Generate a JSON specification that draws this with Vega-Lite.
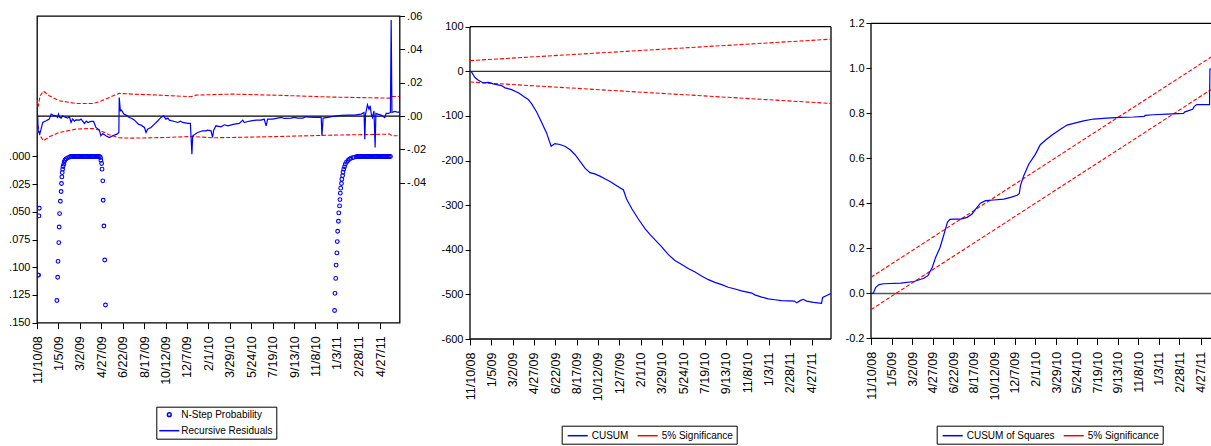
{
  "$schema": "https://vega.github.io/schema/vega-lite/v6.json",
  "background": "white",
  "padding": {"left": 7, "top": 9, "right": 0, "bottom": 0},
  "spacing": 13,
  "config": {
    "view": {"stroke": "#000", "strokeWidth": 1.3},
    "axis": {"domain": false, "grid": false, "tickColor": "#000", "tickSize": 5, "tickWidth": 1, "labelColor": "#000", "labelFont": "Liberation Sans, Arial, sans-serif", "labelFontSize": 11, "labelPadding": 2},
    "axisX": {"labelAngle": 270, "labelFont": "Liberation Sans, Arial, sans-serif", "labelFontSize": 12.5, "labelPadding": 7, "labelOverlap": false, "labelFlush": false, "tickSize": 6},
    "legend": {"labelFont": "Liberation Sans, Arial, sans-serif", "labelFontSize": 10, "labelColor": "#000", "strokeColor": "#000", "fillColor": "#fff", "padding": 3, "symbolType": "M-1.67,0H1.67", "symbolSize": 144, "symbolStrokeWidth": 1.5, "rowPadding": 4, "columnPadding": 5}
  },
  "resolve": {"scale": {"color": "independent", "shape": "independent", "size": "independent"}, "legend": {"color": "independent", "shape": "independent", "size": "independent"}},
  "datasets": {
    "nstep": [
      {"date": "2008-11-13", "p": 0.107}, {"date": "2008-11-14", "p": 0.107}, {"date": "2008-11-15", "p": 0.0536}, {"date": "2008-11-16", "p": 0.0467},
      {"date": "2009-01-01", "p": 0.130}, {"date": "2009-01-03", "p": 0.109}, {"date": "2009-01-04", "p": 0.0946}, {"date": "2009-01-06", "p": 0.0777},
      {"date": "2009-01-07", "p": 0.0636}, {"date": "2009-01-08", "p": 0.0515}, {"date": "2009-01-10", "p": 0.0404}, {"date": "2009-01-12", "p": 0.0316},
      {"date": "2009-01-13", "p": 0.0244}, {"date": "2009-01-14", "p": 0.0184}, {"date": "2009-01-15", "p": 0.0145}, {"date": "2009-01-16", "p": 0.0114},
      {"date": "2009-01-17", "p": 0.009}, {"date": "2009-01-19", "p": 0.0069}, {"date": "2009-01-20", "p": 0.0048}, {"date": "2009-01-22", "p": 0.0033},
      {"date": "2009-01-25", "p": 0.0021}, {"date": "2009-01-29", "p": 0.0012}, {"date": "2009-02-03", "p": 0.0006},
      {"date": "2009-02-06", "p": 0}, {"date": "2009-02-09", "p": 0}, {"date": "2009-02-12", "p": 0}, {"date": "2009-02-15", "p": 0},
      {"date": "2009-02-18", "p": 0}, {"date": "2009-02-21", "p": 0}, {"date": "2009-02-24", "p": 0}, {"date": "2009-02-27", "p": 0},
      {"date": "2009-03-02", "p": 0}, {"date": "2009-03-05", "p": 0}, {"date": "2009-03-08", "p": 0}, {"date": "2009-03-11", "p": 0},
      {"date": "2009-03-14", "p": 0}, {"date": "2009-03-17", "p": 0}, {"date": "2009-03-20", "p": 0}, {"date": "2009-03-23", "p": 0},
      {"date": "2009-03-26", "p": 0}, {"date": "2009-03-29", "p": 0}, {"date": "2009-04-01", "p": 0}, {"date": "2009-04-04", "p": 0},
      {"date": "2009-04-07", "p": 0}, {"date": "2009-04-10", "p": 0}, {"date": "2009-04-13", "p": 0}, {"date": "2009-04-16", "p": 0},
      {"date": "2009-04-19", "p": 0}, {"date": "2009-04-22", "p": 0},
      {"date": "2009-04-25", "p": 0.0009}, {"date": "2009-04-26", "p": 0.0033}, {"date": "2009-04-28", "p": 0.0063}, {"date": "2009-04-29", "p": 0.0114},
      {"date": "2009-05-01", "p": 0.022}, {"date": "2009-05-02", "p": 0.0395}, {"date": "2009-05-04", "p": 0.0627}, {"date": "2009-05-06", "p": 0.0934},
      {"date": "2009-05-08", "p": 0.134},
      {"date": "2010-12-28", "p": 0.139}, {"date": "2010-12-29", "p": 0.1235}, {"date": "2010-12-31", "p": 0.110}, {"date": "2011-01-01", "p": 0.098},
      {"date": "2011-01-03", "p": 0.087}, {"date": "2011-01-04", "p": 0.0768}, {"date": "2011-01-05", "p": 0.0675}, {"date": "2011-01-07", "p": 0.0584},
      {"date": "2011-01-08", "p": 0.0509}, {"date": "2011-01-10", "p": 0.0446}, {"date": "2011-01-11", "p": 0.0389}, {"date": "2011-01-12", "p": 0.0331},
      {"date": "2011-01-13", "p": 0.0286}, {"date": "2011-01-15", "p": 0.0244}, {"date": "2011-01-16", "p": 0.0205}, {"date": "2011-01-18", "p": 0.0172},
      {"date": "2011-01-19", "p": 0.0142}, {"date": "2011-01-21", "p": 0.0114}, {"date": "2011-01-23", "p": 0.0093}, {"date": "2011-01-25", "p": 0.0069},
      {"date": "2011-01-28", "p": 0.0051}, {"date": "2011-02-01", "p": 0.0036}, {"date": "2011-02-05", "p": 0.0024}, {"date": "2011-02-09", "p": 0.0015},
      {"date": "2011-02-15", "p": 0.0009}, {"date": "2011-02-22", "p": 0.0003},
      {"date": "2011-02-25", "p": 0}, {"date": "2011-02-28", "p": 0}, {"date": "2011-03-03", "p": 0}, {"date": "2011-03-06", "p": 0},
      {"date": "2011-03-09", "p": 0}, {"date": "2011-03-12", "p": 0}, {"date": "2011-03-15", "p": 0}, {"date": "2011-03-18", "p": 0},
      {"date": "2011-03-21", "p": 0}, {"date": "2011-03-24", "p": 0}, {"date": "2011-03-27", "p": 0}, {"date": "2011-03-30", "p": 0},
      {"date": "2011-04-02", "p": 0}, {"date": "2011-04-05", "p": 0}, {"date": "2011-04-08", "p": 0}, {"date": "2011-04-11", "p": 0},
      {"date": "2011-04-14", "p": 0}, {"date": "2011-04-17", "p": 0}, {"date": "2011-04-20", "p": 0}, {"date": "2011-04-23", "p": 0},
      {"date": "2011-04-26", "p": 0}, {"date": "2011-04-29", "p": 0}, {"date": "2011-05-02", "p": 0}, {"date": "2011-05-05", "p": 0},
      {"date": "2011-05-08", "p": 0}, {"date": "2011-05-11", "p": 0}, {"date": "2011-05-14", "p": 0}, {"date": "2011-05-17", "p": 0},
      {"date": "2011-05-20", "p": 0}, {"date": "2011-05-23", "p": 0}
    ],
    "resid": [
      {"date": "2008-11-10", "value": 0.005}, {"date": "2008-11-12", "value": -0.0008}, {"date": "2008-11-13", "value": -0.0088}, {"date": "2008-11-17", "value": -0.0108},
      {"date": "2008-11-20", "value": -0.0084}, {"date": "2008-11-25", "value": -0.0038}, {"date": "2008-12-04", "value": -0.0028}, {"date": "2008-12-12", "value": -0.0018},
      {"date": "2008-12-17", "value": 0.0012}, {"date": "2008-12-21", "value": 0.0006}, {"date": "2008-12-30", "value": 0.0002}, {"date": "2009-01-03", "value": -0.0008},
      {"date": "2009-01-05", "value": 0.0012}, {"date": "2009-01-08", "value": -0.0006}, {"date": "2009-01-12", "value": -0.0012}, {"date": "2009-01-16", "value": 0.0002}, {"date": "2009-01-20", "value": -0.0004}, {"date": "2009-01-29", "value": -0.0012},
      {"date": "2009-02-03", "value": -0.0004}, {"date": "2009-02-07", "value": -0.0038}, {"date": "2009-02-11", "value": -0.0018}, {"date": "2009-02-16", "value": -0.0030}, {"date": "2009-02-20", "value": -0.0022},
      {"date": "2009-03-01", "value": -0.0024}, {"date": "2009-03-05", "value": -0.0018}, {"date": "2009-03-09", "value": -0.0028}, {"date": "2009-03-14", "value": -0.0044}, {"date": "2009-03-19", "value": -0.0030}, {"date": "2009-03-23", "value": -0.0038},
      {"date": "2009-03-31", "value": -0.0032}, {"date": "2009-04-07", "value": -0.0032}, {"date": "2009-04-13", "value": -0.0068}, {"date": "2009-04-22", "value": -0.0084},
      {"date": "2009-04-26", "value": -0.0118}, {"date": "2009-05-01", "value": -0.0104}, {"date": "2009-05-09", "value": -0.0118}, {"date": "2009-05-18", "value": -0.0128},
      {"date": "2009-05-27", "value": -0.0118}, {"date": "2009-06-07", "value": -0.0108}, {"date": "2009-06-12", "value": -0.0098}, {"date": "2009-06-13", "value": 0.0112},
      {"date": "2009-06-16", "value": 0.0032}, {"date": "2009-06-19", "value": 0.0036}, {"date": "2009-06-25", "value": 0.0012}, {"date": "2009-07-01", "value": 0.0006},
      {"date": "2009-07-09", "value": -0.0008}, {"date": "2009-07-16", "value": -0.0014}, {"date": "2009-07-23", "value": -0.0024}, {"date": "2009-08-02", "value": -0.0048}, {"date": "2009-08-09", "value": -0.0054},
      {"date": "2009-08-18", "value": -0.0068}, {"date": "2009-08-22", "value": -0.0098}, {"date": "2009-08-26", "value": -0.0078}, {"date": "2009-09-04", "value": -0.0068},
      {"date": "2009-09-13", "value": -0.0048}, {"date": "2009-09-22", "value": -0.0028}, {"date": "2009-09-30", "value": -0.0008}, {"date": "2009-10-07", "value": 0.0002},
      {"date": "2009-10-13", "value": -0.0018}, {"date": "2009-10-18", "value": -0.0012}, {"date": "2009-10-22", "value": -0.0024}, {"date": "2009-11-04", "value": -0.0032}, {"date": "2009-11-13", "value": -0.0038},
      {"date": "2009-11-20", "value": -0.0030}, {"date": "2009-11-26", "value": -0.0038}, {"date": "2009-12-09", "value": -0.0044}, {"date": "2009-12-16", "value": -0.0044}, {"date": "2009-12-20", "value": -0.0228},
      {"date": "2009-12-22", "value": -0.0118}, {"date": "2010-01-04", "value": -0.0098}, {"date": "2010-01-17", "value": -0.0088}, {"date": "2010-01-26", "value": -0.0088},
      {"date": "2010-01-30", "value": -0.0084}, {"date": "2010-02-08", "value": -0.0088}, {"date": "2010-02-12", "value": -0.0128}, {"date": "2010-02-15", "value": -0.0084},
      {"date": "2010-02-21", "value": -0.0058}, {"date": "2010-03-06", "value": -0.0064}, {"date": "2010-03-15", "value": -0.0052}, {"date": "2010-03-24", "value": -0.0058}, {"date": "2010-04-10", "value": -0.0048},
      {"date": "2010-04-23", "value": -0.0044}, {"date": "2010-05-02", "value": -0.0024}, {"date": "2010-05-06", "value": -0.0038}, {"date": "2010-05-15", "value": -0.0032},
      {"date": "2010-05-24", "value": -0.0028}, {"date": "2010-06-06", "value": -0.0024}, {"date": "2010-06-19", "value": -0.0024}, {"date": "2010-06-27", "value": -0.0018},
      {"date": "2010-07-02", "value": -0.0058}, {"date": "2010-07-06", "value": -0.0018}, {"date": "2010-07-19", "value": -0.0018}, {"date": "2010-08-01", "value": -0.0012},
      {"date": "2010-08-10", "value": -0.0008}, {"date": "2010-08-19", "value": -0.0014}, {"date": "2010-09-05", "value": -0.0012}, {"date": "2010-09-14", "value": -0.0008},
      {"date": "2010-09-23", "value": -0.0012}, {"date": "2010-10-06", "value": -0.0012}, {"date": "2010-10-14", "value": -0.0004}, {"date": "2010-11-05", "value": -0.0008},
      {"date": "2010-11-23", "value": -0.0008}, {"date": "2010-11-25", "value": -0.0118}, {"date": "2010-11-28", "value": -0.0012}, {"date": "2010-12-10", "value": -0.0008},
      {"date": "2010-12-28", "value": 0}, {"date": "2011-01-14", "value": 0.0004}, {"date": "2011-01-31", "value": 0.0006}, {"date": "2011-02-18", "value": 0.0006},
      {"date": "2011-03-08", "value": 0.0012}, {"date": "2011-03-15", "value": 0.0022}, {"date": "2011-03-17", "value": -0.0138}, {"date": "2011-03-19", "value": 0.0012},
      {"date": "2011-03-24", "value": 0.0068}, {"date": "2011-03-28", "value": 0.0042}, {"date": "2011-03-31", "value": 0.0062}, {"date": "2011-04-03", "value": 0.0012},
      {"date": "2011-04-06", "value": -0.0008}, {"date": "2011-04-10", "value": 0.0032}, {"date": "2011-04-13", "value": -0.0188}, {"date": "2011-04-15", "value": 0.0016},
      {"date": "2011-04-20", "value": 0.0012}, {"date": "2011-04-29", "value": 0.0006}, {"date": "2011-05-08", "value": -0.0008}, {"date": "2011-05-12", "value": 0.0016},
      {"date": "2011-05-18", "value": 0.0016}, {"date": "2011-05-23", "value": 0.0022}, {"date": "2011-05-25", "value": 0.0576}, {"date": "2011-05-27", "value": 0.0022},
      {"date": "2011-06-03", "value": 0.0028}, {"date": "2011-06-12", "value": 0.0022}, {"date": "2011-06-16", "value": 0.0028}
    ],
    "resid_band": [
      {"date": "2008-11-10", "value": 0.0096, "part": "upper"}, {"date": "2008-11-13", "value": 0.0056, "part": "upper"}, {"date": "2008-11-18", "value": 0.0122, "part": "upper"},
      {"date": "2008-11-27", "value": 0.0150, "part": "upper"}, {"date": "2008-12-12", "value": 0.0122, "part": "upper"}, {"date": "2009-01-07", "value": 0.0092, "part": "upper"},
      {"date": "2009-02-20", "value": 0.0076, "part": "upper"}, {"date": "2009-04-05", "value": 0.0076, "part": "upper"}, {"date": "2009-04-22", "value": 0.0086, "part": "upper"},
      {"date": "2009-05-18", "value": 0.0112, "part": "upper"}, {"date": "2009-06-13", "value": 0.0136, "part": "upper"}, {"date": "2009-07-18", "value": 0.0132, "part": "upper"},
      {"date": "2009-10-13", "value": 0.0124, "part": "upper"}, {"date": "2009-12-18", "value": 0.0116, "part": "upper"}, {"date": "2009-12-31", "value": 0.0126, "part": "upper"},
      {"date": "2010-04-06", "value": 0.0132, "part": "upper"}, {"date": "2010-08-15", "value": 0.0124, "part": "upper"}, {"date": "2010-12-23", "value": 0.0114, "part": "upper"},
      {"date": "2011-05-21", "value": 0.0108, "part": "upper"}, {"date": "2011-05-27", "value": 0.0118, "part": "upper"}, {"date": "2011-06-16", "value": 0.0118, "part": "upper"},
      {"date": "2008-11-10", "value": -0.0098, "part": "lower"}, {"date": "2008-11-13", "value": -0.0058, "part": "lower"}, {"date": "2008-11-18", "value": -0.0118, "part": "lower"},
      {"date": "2008-11-27", "value": -0.0148, "part": "lower"}, {"date": "2008-12-12", "value": -0.0124, "part": "lower"}, {"date": "2009-01-07", "value": -0.0098, "part": "lower"},
      {"date": "2009-02-20", "value": -0.0078, "part": "lower"}, {"date": "2009-04-05", "value": -0.0074, "part": "lower"}, {"date": "2009-04-22", "value": -0.0084, "part": "lower"},
      {"date": "2009-05-18", "value": -0.0112, "part": "lower"}, {"date": "2009-06-13", "value": -0.0130, "part": "lower"}, {"date": "2009-07-18", "value": -0.0132, "part": "lower"},
      {"date": "2009-10-13", "value": -0.0128, "part": "lower"}, {"date": "2009-12-18", "value": -0.0122, "part": "lower"}, {"date": "2010-02-12", "value": -0.0130, "part": "lower"},
      {"date": "2010-07-02", "value": -0.0124, "part": "lower"}, {"date": "2010-12-23", "value": -0.0114, "part": "lower"}, {"date": "2011-05-21", "value": -0.0108, "part": "lower"},
      {"date": "2011-05-27", "value": -0.0118, "part": "lower"}, {"date": "2011-06-16", "value": -0.0118, "part": "lower"}
    ],
    "cusum": [
      {"date": "2008-11-10", "value": 0}, {"date": "2008-11-14", "value": -1.5}, {"date": "2008-11-23", "value": -14}, {"date": "2008-12-02", "value": -20},
      {"date": "2008-12-15", "value": -26}, {"date": "2008-12-28", "value": -25}, {"date": "2009-01-10", "value": -28}, {"date": "2009-02-01", "value": -32},
      {"date": "2009-02-10", "value": -37}, {"date": "2009-02-27", "value": -41}, {"date": "2009-03-17", "value": -48}, {"date": "2009-04-03", "value": -58},
      {"date": "2009-04-12", "value": -63}, {"date": "2009-04-21", "value": -73}, {"date": "2009-05-04", "value": -91}, {"date": "2009-05-17", "value": -114},
      {"date": "2009-05-30", "value": -138}, {"date": "2009-06-11", "value": -168}, {"date": "2009-06-21", "value": -162}, {"date": "2009-07-04", "value": -164},
      {"date": "2009-07-17", "value": -168}, {"date": "2009-07-31", "value": -176}, {"date": "2009-08-13", "value": -187}, {"date": "2009-08-26", "value": -202},
      {"date": "2009-09-08", "value": -217}, {"date": "2009-09-21", "value": -227}, {"date": "2009-10-04", "value": -230}, {"date": "2009-10-17", "value": -235},
      {"date": "2009-10-30", "value": -241}, {"date": "2009-11-13", "value": -247}, {"date": "2009-11-26", "value": -254}, {"date": "2009-12-18", "value": -266},
      {"date": "2009-12-26", "value": -286}, {"date": "2010-01-09", "value": -308}, {"date": "2010-01-26", "value": -331}, {"date": "2010-02-13", "value": -353},
      {"date": "2010-02-26", "value": -366}, {"date": "2010-03-11", "value": -378}, {"date": "2010-03-28", "value": -393}, {"date": "2010-04-15", "value": -411},
      {"date": "2010-05-02", "value": -424}, {"date": "2010-05-20", "value": -433}, {"date": "2010-06-06", "value": -442}, {"date": "2010-06-24", "value": -450},
      {"date": "2010-07-11", "value": -459}, {"date": "2010-07-29", "value": -467}, {"date": "2010-08-15", "value": -473}, {"date": "2010-09-02", "value": -478},
      {"date": "2010-09-19", "value": -484}, {"date": "2010-10-07", "value": -488}, {"date": "2010-10-24", "value": -492}, {"date": "2010-11-20", "value": -497},
      {"date": "2010-11-28", "value": -501}, {"date": "2010-12-16", "value": -506}, {"date": "2011-01-02", "value": -510}, {"date": "2011-01-20", "value": -512},
      {"date": "2011-02-06", "value": -514}, {"date": "2011-03-12", "value": -515}, {"date": "2011-03-18", "value": -519}, {"date": "2011-03-27", "value": -514},
      {"date": "2011-04-04", "value": -511}, {"date": "2011-04-13", "value": -515}, {"date": "2011-05-01", "value": -518}, {"date": "2011-05-22", "value": -520},
      {"date": "2011-05-25", "value": -507}, {"date": "2011-06-13", "value": -499}, {"date": "2011-06-16", "value": -498}
    ],
    "cusum_band": [
      {"date": "2008-11-10", "value": 24, "part": "upper"}, {"date": "2011-06-16", "value": 72, "part": "upper"},
      {"date": "2008-11-10", "value": -24, "part": "lower"}, {"date": "2011-06-16", "value": -72, "part": "lower"}
    ],
    "cusumsq": [
      {"date": "2008-11-10", "value": 0}, {"date": "2008-11-16", "value": 0}, {"date": "2008-11-23", "value": 0.027}, {"date": "2008-12-02", "value": 0.039},
      {"date": "2008-12-15", "value": 0.043}, {"date": "2009-01-30", "value": 0.046}, {"date": "2009-03-07", "value": 0.053}, {"date": "2009-04-03", "value": 0.067},
      {"date": "2009-04-14", "value": 0.079}, {"date": "2009-04-26", "value": 0.116}, {"date": "2009-05-05", "value": 0.16}, {"date": "2009-05-17", "value": 0.204},
      {"date": "2009-05-28", "value": 0.264}, {"date": "2009-06-06", "value": 0.316}, {"date": "2009-06-13", "value": 0.329}, {"date": "2009-06-24", "value": 0.33},
      {"date": "2009-07-12", "value": 0.33}, {"date": "2009-07-30", "value": 0.338}, {"date": "2009-08-12", "value": 0.353}, {"date": "2009-08-22", "value": 0.375},
      {"date": "2009-09-04", "value": 0.401}, {"date": "2009-09-18", "value": 0.412}, {"date": "2009-10-10", "value": 0.415}, {"date": "2009-11-07", "value": 0.419},
      {"date": "2009-11-25", "value": 0.427}, {"date": "2009-12-13", "value": 0.436}, {"date": "2009-12-19", "value": 0.444}, {"date": "2009-12-22", "value": 0.479},
      {"date": "2009-12-31", "value": 0.523}, {"date": "2010-01-14", "value": 0.575}, {"date": "2010-02-01", "value": 0.619}, {"date": "2010-02-14", "value": 0.661},
      {"date": "2010-03-04", "value": 0.686}, {"date": "2010-03-22", "value": 0.708}, {"date": "2010-04-10", "value": 0.73}, {"date": "2010-04-28", "value": 0.748},
      {"date": "2010-05-16", "value": 0.756}, {"date": "2010-06-12", "value": 0.767}, {"date": "2010-07-09", "value": 0.775}, {"date": "2010-08-14", "value": 0.779},
      {"date": "2010-09-20", "value": 0.782}, {"date": "2010-10-26", "value": 0.784}, {"date": "2010-11-24", "value": 0.787}, {"date": "2010-11-27", "value": 0.791},
      {"date": "2010-12-19", "value": 0.794}, {"date": "2011-01-25", "value": 0.797}, {"date": "2011-03-11", "value": 0.8}, {"date": "2011-03-15", "value": 0.807},
      {"date": "2011-04-05", "value": 0.818}, {"date": "2011-04-09", "value": 0.83}, {"date": "2011-04-16", "value": 0.839}, {"date": "2011-05-21", "value": 0.839},
      {"date": "2011-05-22", "value": 0.997}, {"date": "2011-06-16", "value": 1.0}
    ],
    "cusumsq_band": [
      {"date": "2008-11-10", "value": 0.072, "part": "upper"}, {"date": "2011-06-16", "value": 1.073, "part": "upper"},
      {"date": "2008-11-10", "value": -0.072, "part": "lower"}, {"date": "2011-06-16", "value": 0.929, "part": "lower"}
    ]
  },
  "hconcat": [
    {
      "width": 362.6,
      "height": 306.7,
      "layer": [
        {
          "data": {"name": "nstep"},
          "mark": {"type": "point", "filled": false, "strokeWidth": 1.1, "opacity": 1, "clip": true},
          "encoding": {
            "x": {"field": "date", "type": "temporal", "scale": {"type": "utc", "domain": [1226275200000, 1308182400000]}, "axis": {"title": null, "format": "%-m/%-d/%y", "labelAngle": 270, "labelOverlap": false, "labelBound": false, "tickCount": 40, "values": [1226275200000, 1231113600000, 1235952000000, 1240790400000, 1245628800000, 1250467200000, 1255305600000, 1260144000000, 1264982400000, 1269820800000, 1274659200000, 1279497600000, 1284336000000, 1289174400000, 1294012800000, 1298851200000, 1303862400000]}},
            "y": {"field": "p", "type": "quantitative", "scale": {"domain": [-0.1268, 0.15], "reverse": true, "nice": false, "zero": false}, "axis": {"title": null, "orient": "left", "values": [0, 0.025, 0.05, 0.075, 0.1, 0.125, 0.15], "labelExpr": "replace(format(datum.value, '.3f'), '0.', '.')"}},
            "color": {"datum": "N-Step Probability", "type": "nominal", "scale": {"domain": ["N-Step Probability", "Recursive Residuals"], "range": ["#0000ff", "#0000ff"]}, "legend": {"title": null, "orient": "none", "legendX": 119.3, "legendY": 390.7, "direction": "vertical", "symbolOffset": 3, "labelOffset": 5}},
            "shape": {"datum": "N-Step Probability", "type": "nominal", "scale": {"domain": ["N-Step Probability", "Recursive Residuals"], "range": ["circle", "M-1.67,0H1.67"]}, "legend": {"title": null, "orient": "none", "legendX": 119.3, "legendY": 390.7, "direction": "vertical", "symbolOffset": 3, "labelOffset": 5}},
            "size": {"datum": "N-Step Probability", "type": "nominal", "scale": {"type": "ordinal", "domain": ["N-Step Probability", "Recursive Residuals"], "range": [14, 144]}, "legend": {"title": null, "orient": "none", "legendX": 119.3, "legendY": 390.7, "direction": "vertical", "symbolOffset": 3, "labelOffset": 5}}
          }
        },
        {
          "layer": [
            {
              "data": {"name": "resid_band"},
              "mark": {"type": "line", "color": "#ff0000", "strokeDash": [4, 2], "strokeWidth": 1.1, "clip": true},
              "encoding": {
                "x": {"field": "date", "type": "temporal"},
                "y": {"field": "value", "type": "quantitative", "scale": {"domain": [-0.1238, 0.06], "nice": false, "zero": false}, "axis": {"title": null, "orient": "right", "values": [-0.04, -0.02, 0, 0.02, 0.04, 0.06], "labelExpr": "replace(replace(format(datum.value, '.2f'), '\u2212', '-'), '0.', '.')"}},
                "detail": {"field": "part"}
              }
            },
            {
              "data": {"values": [{}]},
              "mark": {"type": "rule", "color": "#000", "strokeWidth": 1.2},
              "encoding": {"y": {"datum": 0, "type": "quantitative"}}
            },
            {
              "data": {"name": "resid"},
              "mark": {"type": "line", "strokeWidth": 1.2, "clip": true},
              "encoding": {
                "x": {"field": "date", "type": "temporal"},
                "y": {"field": "value", "type": "quantitative"},
                "color": {"datum": "Recursive Residuals", "type": "nominal"}
              }
            }
          ]
        }
      ],
      "resolve": {"scale": {"y": "independent"}, "axis": {"y": "independent"}}
    },
    {
      "width": 361,
      "height": 323,
      "view": {"stroke": null},
      "layer": [
        {"data": {"values": [{}]}, "mark": {"type": "rule", "color": "#000", "strokeWidth": 1.3}, "encoding": {"y": {"datum": 100, "type": "quantitative"}}},
        {"data": {"values": [{}]}, "mark": {"type": "rule", "color": "#000", "strokeWidth": 1.3}, "encoding": {"y": {"datum": -600, "type": "quantitative"}}},
        {"data": {"values": [{}]}, "mark": {"type": "rule", "color": "#000", "strokeWidth": 1.3}, "encoding": {"x": {"datum": 1226275200000, "type": "temporal"}, "y": {"datum": -600, "type": "quantitative"}, "y2": {"datum": 100}}},
        {"data": {"values": [{}]}, "mark": {"type": "rule", "color": "#000", "strokeWidth": 1.3}, "encoding": {"x": {"datum": 1308182400000, "type": "temporal"}, "y": {"datum": -600, "type": "quantitative"}, "y2": {"datum": 100}}},
        {"data": {"values": [{}]}, "mark": {"type": "rule", "color": "#333", "strokeWidth": 1.2}, "encoding": {"y": {"datum": 0, "type": "quantitative"}}},
        {
          "data": {"name": "cusum_band"},
          "mark": {"type": "line", "strokeDash": [4, 2], "strokeWidth": 1.1, "clip": true},
          "encoding": {
            "x": {"field": "date", "type": "temporal"},
            "y": {"field": "value", "type": "quantitative"},
            "detail": {"field": "part"},
            "color": {"datum": "5% Significance", "type": "nominal"}
          }
        },
        {
          "data": {"name": "cusum"},
          "mark": {"type": "line", "strokeWidth": 1.2, "clip": true},
          "encoding": {
            "x": {"field": "date", "type": "temporal", "scale": {"type": "utc", "domain": [1226275200000, 1308182400000]}, "axis": {"title": null, "format": "%-m/%-d/%y", "labelAngle": 270, "labelOverlap": false, "labelBound": false, "tickCount": 40, "values": [1226275200000, 1231113600000, 1235952000000, 1240790400000, 1245628800000, 1250467200000, 1255305600000, 1260144000000, 1264982400000, 1269820800000, 1274659200000, 1279497600000, 1284336000000, 1289174400000, 1294012800000, 1298851200000, 1303862400000]}},
            "y": {"field": "value", "type": "quantitative", "scale": {"domain": [-600, 124], "nice": false, "zero": false}, "axis": {"title": null, "values": [-600, -500, -400, -300, -200, -100, 0, 100], "labelExpr": "replace(format(datum.value, 'd'), '\u2212', '-')"}},
            "color": {"datum": "CUSUM", "type": "nominal", "scale": {"domain": ["CUSUM", "5% Significance"], "range": ["#0000ff", "#ff0000"]}, "legend": {"title": null, "orient": "none", "legendX": 91.7, "legendY": 409.7, "direction": "horizontal", "symbolOffset": 6, "labelOffset": 7}}
          }
        }
      ]
    },
    {
      "width": 340,
      "height": 322.4,
      "view": {"stroke": null},
      "layer": [
        {"data": {"values": [{}]}, "mark": {"type": "rule", "color": "#000", "strokeWidth": 1.3}, "encoding": {"y": {"datum": 1.2, "type": "quantitative"}}},
        {"data": {"values": [{}]}, "mark": {"type": "rule", "color": "#000", "strokeWidth": 1.3}, "encoding": {"y": {"datum": -0.2, "type": "quantitative"}}},
        {"data": {"values": [{}]}, "mark": {"type": "rule", "color": "#000", "strokeWidth": 1.3}, "encoding": {"x": {"datum": 1226275200000, "type": "temporal"}, "y": {"datum": -0.2, "type": "quantitative"}, "y2": {"datum": 1.2}}},
        {"data": {"values": [{}]}, "mark": {"type": "rule", "color": "#555", "strokeWidth": 1.5}, "encoding": {"y": {"datum": 0, "type": "quantitative"}}},
        {
          "data": {"name": "cusumsq_band"},
          "mark": {"type": "line", "strokeDash": [4, 2], "strokeWidth": 1.1, "clip": true},
          "encoding": {
            "x": {"field": "date", "type": "temporal"},
            "y": {"field": "value", "type": "quantitative"},
            "detail": {"field": "part"},
            "color": {"datum": "5% Significance", "type": "nominal"}
          }
        },
        {
          "data": {"name": "cusumsq"},
          "mark": {"type": "line", "strokeWidth": 1.2, "clip": true},
          "encoding": {
            "x": {"field": "date", "type": "temporal", "scale": {"type": "utc", "domain": [1226275200000, 1306281600000]}, "axis": {"title": null, "format": "%-m/%-d/%y", "labelAngle": 270, "labelOverlap": false, "labelBound": false, "tickCount": 40, "values": [1226275200000, 1231113600000, 1235952000000, 1240790400000, 1245628800000, 1250467200000, 1255305600000, 1260144000000, 1264982400000, 1269820800000, 1274659200000, 1279497600000, 1284336000000, 1289174400000, 1294012800000, 1298851200000, 1303862400000]}},
            "y": {"field": "value", "type": "quantitative", "scale": {"domain": [-0.2, 1.2329], "nice": false, "zero": false}, "axis": {"title": null, "values": [-0.2, 0, 0.2, 0.4, 0.6, 0.8, 1, 1.2], "labelExpr": "replace(format(datum.value, '.1f'), '\u2212', '-')"}},
            "color": {"datum": "CUSUM of Squares", "type": "nominal", "scale": {"domain": ["CUSUM of Squares", "5% Significance"], "range": ["#0000ff", "#ff0000"]}, "legend": {"title": null, "orient": "none", "legendX": 65.7, "legendY": 409.7, "direction": "horizontal", "symbolOffset": 6, "labelOffset": 7}}
          }
        }
      ]
    }
  ]
}
